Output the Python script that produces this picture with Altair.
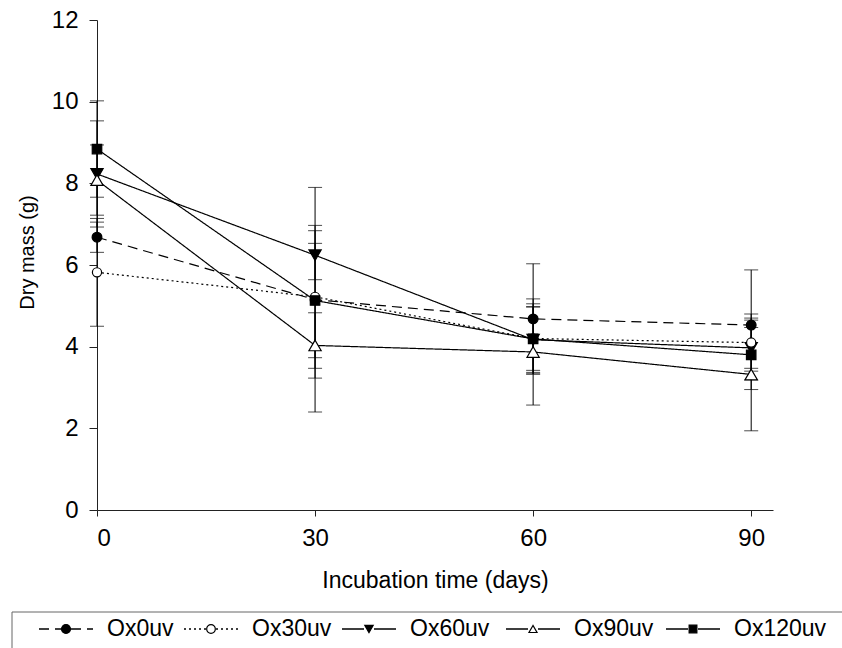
import altair as alt
import pandas as pd

# ---- data ----
series = ["Ox0uv", "Ox30uv", "Ox60uv", "Ox90uv", "Ox120uv"]
days = [0, 30, 60, 90]
mean_ox0 = [6.68, 5.15, 4.68, 4.53]
err_ox0 = [0.37, 2.75, 1.35, 1.35]
mean_ox30 = [5.82, 5.22, 4.20, 4.10]
err_ox30 = [1.32, 1.75, 0.78, 0.70]
mean_ox60 = [8.23, 6.24, 4.17, 3.97]
err_ox60 = [1.30, 0.60, 0.80, 0.50]
mean_ox90 = [8.08, 4.03, 3.87, 3.32]
err_ox90 = [0.86, 0.80, 1.30, 1.38]
mean_ox120 = [8.84, 5.13, 4.19, 3.80]
err_ox120 = [1.18, 1.40, 0.86, 0.85]

means = [mean_ox0, mean_ox30, mean_ox60, mean_ox90, mean_ox120]
errs = [err_ox0, err_ox30, err_ox60, err_ox90, err_ox120]

rows = []
for s, m, e in zip(series, means, errs):
    for d, mv, ev in zip(days, m, e):
        rows.append({"series": s, "day": d, "mean": mv, "lo": mv - ev, "hi": mv + ev})
df = pd.DataFrame(rows)

FONT = "Liberation Sans"

# ---- styles ----
dash_range = [[10, 6], [2, 3], [1, 0], [1, 0], [1, 0]]
shape_range = ["circle", "circle", "triangle-down", "triangle-up", "square"]
fill_range = ["black", "white", "black", "white", "black"]
size_range = [95, 85, 150, 150, 90]
legend_size_range = [80, 60, 110, 110, 70]
draw_order = [2, 3, 0, 1, 4]  # marker stacking order (which series is drawn on top)

dash_scale = alt.Scale(domain=series, range=dash_range)

xscale = alt.Scale(domain=[0, 93], nice=False, zero=False)
yscale = alt.Scale(domain=[0, 12], nice=False)

xaxis = alt.Axis(
    values=days, title="Incubation time (days)", grid=False,
    tickSize=6, labelFontSize=24, titleFontSize=23, labelPadding=10,
    titlePadding=19, labelFont=FONT, titleFont=FONT, titleFontWeight="normal",
    domainColor="#222", tickColor="#222", labelColor="black", titleColor="black",
)
yaxis = alt.Axis(
    values=[0, 2, 4, 6, 8, 10, 12], title="Dry mass (g)", grid=False,
    tickSize=8, labelFontSize=24, titleFontSize=20, labelPadding=11,
    labelFont=FONT, titleFont=FONT, titleFontWeight="normal",
    titleX=-60, titleY=232, domainColor="#222", tickColor="#222",
    labelColor="black", titleColor="black",
)

x = alt.X("day:Q", scale=xscale, axis=xaxis)
y = alt.Y("mean:Q", scale=yscale, axis=yaxis)

bars = alt.Chart(df).mark_rule(color="black", strokeWidth=1).encode(
    x=x, y=alt.Y("lo:Q", scale=yscale, axis=yaxis), y2="hi:Q"
)
cap_lo = alt.Chart(df).mark_tick(color="black", orient="horizontal", size=14, thickness=1).encode(
    x=x, y=alt.Y("lo:Q", scale=yscale, axis=yaxis)
)
cap_hi = alt.Chart(df).mark_tick(color="black", orient="horizontal", size=14, thickness=1).encode(
    x=x, y=alt.Y("hi:Q", scale=yscale, axis=yaxis)
)

lines = alt.Chart(df).mark_line(color="black", strokeWidth=1.2).encode(
    x=x, y=y, detail="series:N",
    strokeDash=alt.StrokeDash("series:N", scale=dash_scale, legend=None),
    order="day:Q",
)

# one marker layer per series (fixed shape / fill per series)
point_layers = []
for i in draw_order:
    s, shp, fc, sz = series[i], shape_range[i], fill_range[i], size_range[i]
    point_layers.append(
        alt.Chart(df).transform_filter(alt.datum.series == s).mark_point(
            shape=shp, filled=True, fill=fc, stroke="black", strokeWidth=1.2,
            opacity=1, size=sz
        ).encode(x=x, y=y)
    )

main = alt.layer(bars, cap_lo, cap_hi, lines, *point_layers)

# ---- legend drawn as marks (boxed row under the plot) ----
leg_df = pd.DataFrame({"series": series, "idx": list(range(len(series)))})
# piecewise position scale: item index -> pixel centre of its symbol (layout only)
leg_x_scale = alt.Scale(domain=[0, 1, 2, 3, 4], range=[-31, 114, 272, 436, 596])
lx = alt.X("idx:Q", scale=leg_x_scale, axis=None)
LEG_Y = 609

box = alt.Chart(pd.DataFrame({"k": [0]})).mark_rect(
    fill="white", stroke="#666", strokeWidth=1
).encode(
    x=alt.value(-85), x2=alt.value(770), y=alt.value(592), y2=alt.value(660)
)
seg_left = alt.Chart(leg_df).mark_rule(color="black", strokeWidth=1.3, xOffset=-27, x2Offset=-5).encode(
    x=lx, x2="idx:Q", y=alt.value(LEG_Y),
    strokeDash=alt.StrokeDash("series:N", scale=dash_scale, legend=None),
)
seg_right = alt.Chart(leg_df).mark_rule(color="black", strokeWidth=1.3, xOffset=5, x2Offset=27).encode(
    x=lx, x2="idx:Q", y=alt.value(LEG_Y),
    strokeDash=alt.StrokeDash("series:N", scale=dash_scale, legend=None),
)
leg_marks = alt.Chart(leg_df).mark_point(filled=True, stroke="black", strokeWidth=1.2, opacity=1).encode(
    x=lx, y=alt.value(LEG_Y),
    shape=alt.Shape("series:N", scale=alt.Scale(domain=series, range=shape_range), legend=None),
    fill=alt.Fill("series:N", scale=alt.Scale(domain=series, range=fill_range), legend=None),
    size=alt.Size("series:N", scale=alt.Scale(domain=series, range=legend_size_range), legend=None),
)
leg_text = alt.Chart(leg_df).mark_text(
    align="left", baseline="middle", dx=41, fontSize=23, font=FONT, color="black"
).encode(x=lx, y=alt.value(LEG_Y), text="series:N")

legend = alt.layer(box, seg_left, seg_right, leg_marks, leg_text)

chart = alt.layer(main, legend).resolve_scale(x="independent").properties(
    width=676, height=490,
    autosize=alt.AutoSizeParams(type="none"),
    padding={"left": 97, "top": 20, "right": 69, "bottom": 138},
    background="white",
).configure_view(stroke=None)

chart.save("out.html", embed_options={"renderer": "svg", "actions": False})
